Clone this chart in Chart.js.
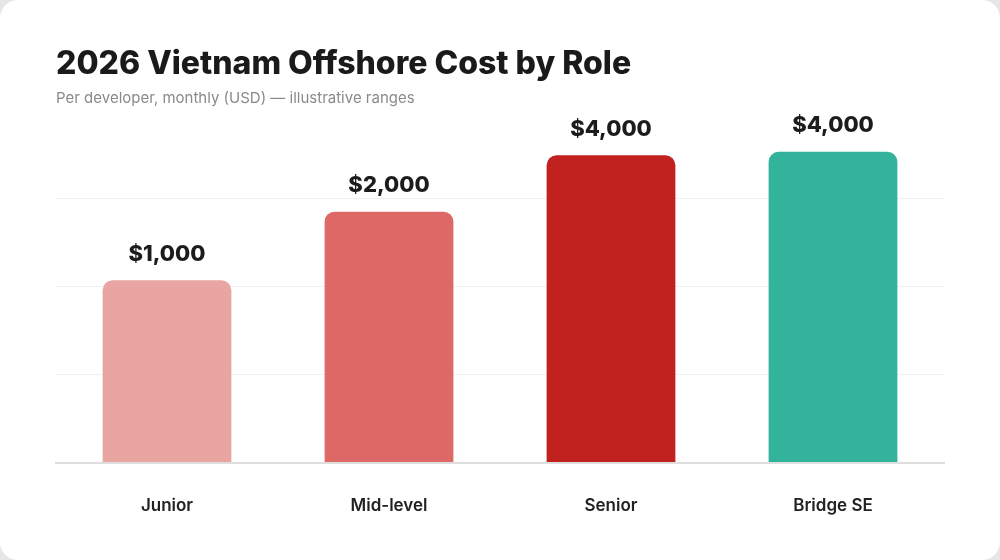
<!DOCTYPE html>
<html>
<head>
<meta charset="utf-8">
<script src="https://cdn.jsdelivr.net/npm/chart.js@4.4.1/dist/chart.umd.min.js"></script>
<style>
  html, body { margin: 0; padding: 0; background: #e6e6e6; }
  .card { position: relative; width: 1000px; height: 560px; background: #fff; border-radius: 18px; overflow: hidden; }
  canvas { display: block; }
</style>
</head>
<body>
<div class="card"><canvas id="costChart" width="1000" height="560"></canvas></div>
<script>
// roles and bar heights
var roles = ['Junior', 'Mid-level', 'Senior', 'Bridge SE'];
var costs = [2070, 2850, 3490, 3530];
var costLabels = ['$1,000', '$2,000', '$4,000', '$4,000'];
var barColors = ['#E9A5A2', '#DD6866', '#C1211F', '#33B39C'];

var valueLabels = {
    id: 'valueLabels',
    afterDatasetsDraw: function (chart) {
        var ctx = chart.ctx;
        var meta = chart.getDatasetMeta(0);
        ctx.save();
        ctx.font = '800 22px Inter';
        ctx.fillStyle = '#1c1c1c';
        ctx.textAlign = 'center';
        ctx.textBaseline = 'bottom';
        meta.data.forEach(function (bar, i) {
            ctx.fillText(costLabels[i], bar.x, bar.y - 15);
        });
        ctx.restore();
    }
};

var ctx = document.getElementById('costChart').getContext('2d');
var chart = new Chart(ctx, {
    type: 'bar',
    data: {
        labels: roles,
        datasets: [{
            data: costs,
            backgroundColor: barColors,
            borderRadius: 10,
            borderSkipped: 'start',
            barPercentage: 0.58,
            categoryPercentage: 1
        }]
    },
    options: {
        responsive: false,
        animation: false,
        layout: {
            padding: { left: 56, right: 56, top: 21, bottom: 19 }
        },
        plugins: {
            legend: { display: false },
            tooltip: { enabled: false },
            title: {
                display: true,
                text: '2026 Vietnam Offshore Cost by Role',
                align: 'start',
                color: '#1a1a1a',
                font: { family: 'Inter', size: 32, weight: '800' },
                padding: { top: 24, bottom: 6 }
            },
            subtitle: {
                display: true,
                text: 'Per developer, monthly (USD) \u2014 illustrative ranges',
                align: 'start',
                color: '#8a8a8a',
                font: { family: 'Inter', size: 15, weight: '400' },
                padding: { top: 0, bottom: 3 }
            }
        },
        scales: {
            x: {
                grid: { display: false },
                border: { display: true, color: '#dedede', width: 2 },
                ticks: {
                    color: '#222',
                    padding: 25,
                    font: { family: 'Inter', size: 17, weight: '600' }
                }
            },
            y: {
                min: 0,
                max: 4000,
                border: { display: false },
                grid: {
                    color: function (c) {
                        return c.tick && c.tick.value === 4000 ? 'rgba(0,0,0,0)' : '#f0f0f0';
                    },
                    drawTicks: false
                },
                ticks: { display: false, stepSize: 1000 }
            }
        }
    },
    plugins: [valueLabels]
});
</script>
</body>
</html>
